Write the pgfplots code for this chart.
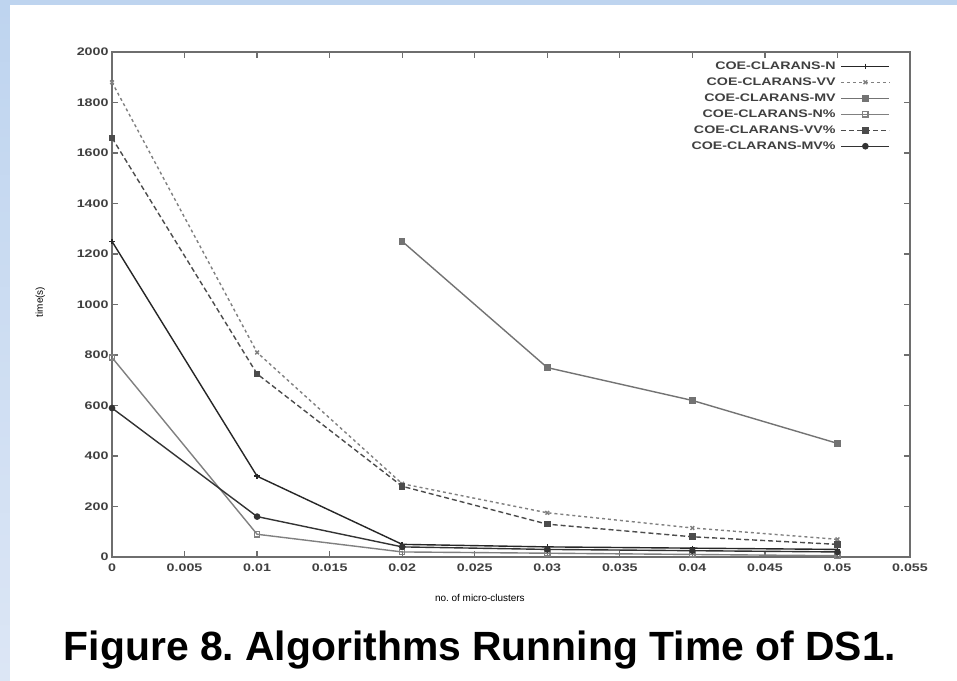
\documentclass[border=0pt]{standalone}
\usepackage{fontspec}
\setmainfont{Liberation Sans}
\newfontfamily\plotfont[FakeStretch=1.3]{Liberation Sans}
\usepackage{pgfplots}
\pgfplotsset{compat=1.18}
\definecolor{bgblue}{HTML}{BED4EF}
\definecolor{bgblue2}{HTML}{DCE6F5}
\definecolor{axgray}{HTML}{6E6E6E}

\begin{document}
\frenchspacing
\begin{tikzpicture}[x=1bp,y=1bp]
\useasboundingbox (0,0) rectangle (957,681);
\fill[bgblue] (0,0) rectangle (957,681);
\shade[top color=bgblue, bottom color=bgblue2] (0,0) rectangle (10,676);
\fill[white] (10,0) rectangle (957,676);
\begin{axis}[
  at={(112bp,124bp)}, anchor=south west,
  scale only axis, width=798bp, height=505bp,
  xmin=0, xmax=0.055, ymin=0, ymax=2000,
  scaled x ticks=false, scaled y ticks=false,
  xtick={0,0.005,0.01,0.015,0.02,0.025,0.03,0.035,0.04,0.045,0.05,0.055},
  xticklabels={0,0.005,0.01,0.015,0.02,0.025,0.03,0.035,0.04,0.045,0.05,0.055},
  ytick={0,200,400,600,800,1000,1200,1400,1600,1800,2000},
  yticklabels={0,200,400,600,800,1000,1200,1400,1600,1800,2000},
  axis line style={draw=axgray, line width=2bp},
  tick style={draw=axgray, line width=1.2bp},
  major tick length=6bp,
  tick label style={font=\plotfont\bfseries\fontsize{11}{12}\selectfont, text=black!75},
  xticklabel style={yshift=-3bp},
  xlabel={no. of micro-clusters},
  ylabel={time(s)},
  label style={font=\plotfont\bfseries\fontsize{9.5}{10}\selectfont, text=black!80},
  every axis x label/.style={at={(axis description cs:0.461,-0.081)}, anchor=center},
  every axis y label/.style={at={(axis description cs:-0.09,0.505)}, rotate=90, anchor=center},
  legend style={draw=none, fill=none, at={(axis description cs:0.979,0.992)}, anchor=north east,
    font=\plotfont\bfseries\fontsize{11}{12}\selectfont, text=black!75, row sep=0bp,
    nodes={inner ysep=1.5bp, inner xsep=5bp, text height=10bp, text depth=3bp}},
  legend cell align=right,
  legend plot pos=right,
  legend image code/.code={\draw[mark repeat=2, mark phase=2, #1] plot coordinates {(0bp,0bp) (24bp,0bp) (48bp,0bp)};},
  every axis plot/.append style={line width=1.4bp, mark size=2.6bp, mark options={solid}},
]
\addplot[black!85, mark=+] coordinates {
  (0,1250) (0.01,320) (0.02,50) (0.03,40) (0.04,35) (0.05,30)};
\addlegendentry{COE-CLARANS-N}
\addplot[black!50, dashed, mark=x] coordinates {
  (0,1880) (0.01,810) (0.02,290) (0.03,175) (0.04,115) (0.05,70)};
\addlegendentry{COE-CLARANS-VV}
\addplot[black!55, mark=square*] coordinates {
  (0.02,1250) (0.03,750) (0.04,620) (0.05,450)};
\addlegendentry{COE-CLARANS-MV}
\addplot[black!50, mark=square] coordinates {
  (0,790) (0.01,90) (0.02,20) (0.03,15) (0.04,10) (0.05,5)};
\addlegendentry{COE-CLARANS-N\%}
\addplot[black!70, dash pattern=on 5bp off 3bp, mark=square*] coordinates {
  (0,1660) (0.01,725) (0.02,280) (0.03,130) (0.04,80) (0.05,50)};
\addlegendentry{COE-CLARANS-VV\%}
\addplot[black!80, mark=*] coordinates {
  (0,590) (0.01,160) (0.02,40) (0.03,30) (0.04,25) (0.05,20)};
\addlegendentry{COE-CLARANS-MV\%}
\end{axis}
\node[font=\bfseries\fontsize{41}{45}\selectfont, anchor=base] at (480,20) {Figure 8. Algorithms Running Time of DS1.};
\end{tikzpicture}
\end{document}
